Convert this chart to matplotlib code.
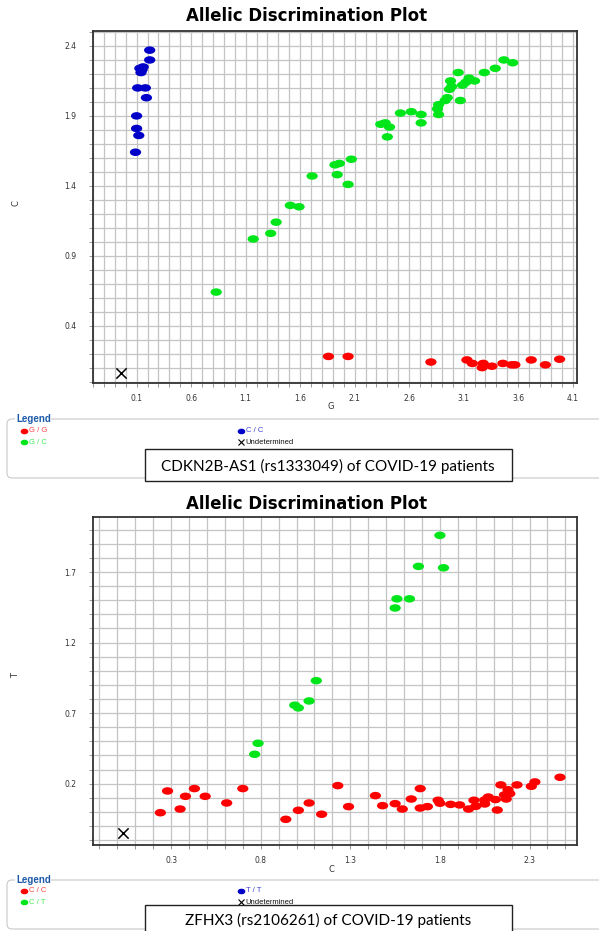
import matplotlib
matplotlib.use("Agg")
import matplotlib.pyplot as plt
from matplotlib.path import Path
from matplotlib.transforms import Affine2D
from matplotlib.lines import Line2D
from matplotlib.patches import FancyBboxPatch, Rectangle
from matplotlib.ticker import FixedLocator, MultipleLocator, FixedFormatter

# ---------------- data: panel 1 (CDKN2B-AS1 rs1333049) ----------------
p1_gg_x = [1.86, 2.04, 2.80, 3.13, 3.18, 3.28, 3.27, 3.36, 3.46, 3.54, 3.57, 3.72, 3.85, 3.98]
p1_gg_y = [0.18, 0.18, 0.14, 0.155, 0.13, 0.13, 0.10, 0.11, 0.13, 0.12, 0.12, 0.155, 0.12, 0.16]

p1_gc_x = [3.47, 3.55, 3.39, 3.29, 3.05, 2.98, 2.99, 2.97, 3.09, 3.15, 3.20, 3.12,
           2.95, 2.93, 3.07, 2.87, 2.86, 2.87, 2.52, 2.62, 2.71, 2.71,
           2.34, 2.38, 2.42, 2.40, 2.07, 1.96, 1.92, 1.71, 1.94, 2.04,
           1.51, 1.59, 1.38, 1.33, 1.17, 0.83]
p1_gc_y = [2.30, 2.28, 2.24, 2.21, 2.21, 2.15, 2.11, 2.09, 2.12, 2.17, 2.15, 2.14,
           2.03, 2.01, 2.01, 1.98, 1.95, 1.91, 1.92, 1.93, 1.91, 1.85,
           1.84, 1.85, 1.82, 1.75, 1.59, 1.56, 1.55, 1.47, 1.48, 1.41,
           1.26, 1.25, 1.14, 1.06, 1.02, 0.64]

p1_cc_x = [0.22, 0.22, 0.16, 0.13, 0.14, 0.15, 0.11, 0.18, 0.19, 0.10, 0.10, 0.12, 0.09]
p1_cc_y = [2.37, 2.30, 2.25, 2.24, 2.21, 2.23, 2.10, 2.10, 2.03, 1.90, 1.81, 1.76, 1.64]

p1_und_x = [-0.04]
p1_und_y = [0.065]

p1_xticks = [0.1, 0.6, 1.1, 1.6, 2.1, 2.6, 3.1, 3.6, 4.1]
p1_yticks = [0.4, 0.9, 1.4, 1.9, 2.4]
p1_xlabel = "G"
p1_ylabel = "C"
p1_legend = [("G / G", "#ff0000"), ("G / C", "#00e61a"), ("C / C", "#0000c8")]
p1_caption = "CDKN2B-AS1 (rs1333049) of COVID-19 patients"

# ---------------- data: panel 2 (ZFHX3 rs2106261) ----------------
p2_cc_x = [0.24, 0.28, 0.35, 0.38, 0.43, 0.49, 0.61, 0.70, 0.94, 1.01, 1.07, 1.14,
           1.23, 1.29, 1.44, 1.48, 1.55, 1.59, 1.64, 1.69, 1.69, 1.73, 1.79, 1.80,
           1.86, 1.91, 1.96, 1.99, 2.00, 2.05, 2.05, 2.07, 2.12, 2.14, 2.11, 2.16,
           2.17, 2.18, 2.19, 2.23, 2.31, 2.33, 2.47]
p2_cc_y = [-0.006, 0.148, 0.020, 0.110, 0.165, 0.110, 0.063, 0.165, -0.053, 0.011, 0.063, -0.017,
           0.186, 0.037, 0.115, 0.044, 0.058, 0.020, 0.091, 0.165, 0.027, 0.037, 0.082, 0.061,
           0.053, 0.049, 0.020, 0.082, 0.039, 0.056, 0.084, 0.105, 0.013, 0.191, 0.087, 0.120,
           0.091, 0.157, 0.129, 0.191, 0.181, 0.212, 0.245]

p2_ct_x = [1.80, 1.68, 1.82, 1.56, 1.63, 1.55, 1.11, 1.07, 0.99, 1.01, 0.785, 0.766]
p2_ct_y = [1.96, 1.74, 1.73, 1.51, 1.51, 1.445, 0.93, 0.786, 0.756, 0.737, 0.486, 0.408]

p2_tt_x = []
p2_tt_y = []

p2_und_x = [0.03]
p2_und_y = [-0.15]

p2_xticks = [0.3, 0.8, 1.3, 1.8, 2.3]
p2_yticks = [0.2, 0.7, 1.2, 1.7]
p2_xlabel = "C"
p2_ylabel = "T"
p2_legend = [("C / C", "#ff0000"), ("C / T", "#00e61a"), ("T / T", "#0000c8")]
p2_caption = "ZFHX3 (rs2106261) of COVID-19 patients"

TITLE = "Allelic Discrimination Plot"

# ---------------- figure ----------------
W, H = 599, 931
fig = plt.figure(figsize=(W / 100, H / 100), dpi=100)
fig.patch.set_facecolor("white")

ell = Path.unit_circle().transformed(Affine2D().scale(1.5, 1.0))

RED, GREEN, BLUE = "#ff0000", "#00e61a", "#0000c8"


def fx(px):
    return px / W


def fy(py):
    return 1 - py / H


def make_axes(top, bottom, xlim, ylim, xticks, yticks):
    ax = fig.add_axes([fx(93), fy(bottom), (577 - 93) / W, (bottom - top) / H])
    ax.set_xlim(*xlim)
    ax.set_ylim(*ylim)
    ax.xaxis.set_major_locator(FixedLocator(xticks))
    ax.yaxis.set_major_locator(FixedLocator(yticks))
    ax.xaxis.set_major_formatter(FixedFormatter([f"{v:.1f}" for v in xticks]))
    ax.yaxis.set_major_formatter(FixedFormatter([f"{v:.1f}" for v in yticks]))
    ax.xaxis.set_minor_locator(MultipleLocator(0.1))
    ax.yaxis.set_minor_locator(MultipleLocator(0.1))
    ax.grid(True, which="both", color="#c4c4c4", linewidth=0.9)
    ax.set_axisbelow(True)
    ax.tick_params(which="both", direction="out", length=3, width=0.7,
                   color="#999999", labelsize=5.5, labelcolor="#333333")
    ax.tick_params(axis="y", which="both", pad=9)
    ax.tick_params(axis="x", which="both", pad=5)
    for s in ax.spines.values():
        s.set_color("#333333")
        s.set_linewidth(1.3)
    return ax


def draw_panel(top, bottom, xlim, ylim, xticks, yticks, series, und, title_y,
               xlabel, ylabel, ylabel_y, legend, caption, leg_top, leg_bot,
               ent1, ent2, cap_top, cap_bot, cap_y):
    ax = make_axes(top, bottom, xlim, ylim, xticks, yticks)
    for xs, ys, c in series:
        if xs:
            ax.scatter(xs, ys, s=66, marker=ell, color=c, edgecolors="none", zorder=3)
    ax.scatter(und[0], und[1], s=55, marker="x", color="black", linewidths=1.1, zorder=3)
    fig.text(fx(307), fy(title_y), TITLE, ha="center", va="center",
             fontsize=12, fontweight="bold", family="DejaVu Sans")
    fig.text(fx(331), fy(bottom + 24), xlabel, ha="center", va="center",
             fontsize=6, color="#333333")
    fig.text(fx(16), fy(ylabel_y), ylabel, ha="center", va="center",
             fontsize=6, color="#333333", rotation=90)

    # legend box
    box = FancyBboxPatch((7 / 100, (H - leg_bot) / 100), 6.3, (leg_bot - leg_top) / 100,
                         boxstyle="round,pad=0,rounding_size=0.05",
                         transform=fig.dpi_scale_trans, facecolor="white",
                         edgecolor="#c8c8c8", linewidth=0.8, zorder=1)
    fig.add_artist(box)
    fig.text(fx(16), fy(leg_top), "Legend", ha="left", va="center", fontsize=7,
             fontweight="bold", color="#1c5aa8", family="Liberation Sans",
             bbox=dict(facecolor="white", edgecolor="none", pad=0.5), zorder=2)
    entries = [(24, ent1, legend[0]), (24, ent2, legend[1]), (241, ent1, legend[2])]
    for px, py, (lab, col) in entries:
        fig.add_artist(Line2D([fx(px)], [fy(py)], transform=fig.transFigure,
                              marker=ell, markersize=4.5, color=col, linestyle="none"))
        fig.text(fx(px + 5), fy(py), lab, ha="left", va="center", fontsize=5.5,
                 color=col, family="Liberation Sans", alpha=0.75)
    fig.add_artist(Line2D([fx(241)], [fy(ent2)], transform=fig.transFigure,
                          marker="x", markersize=4.5, color="black",
                          markeredgewidth=0.8, linestyle="none"))
    fig.text(fx(245), fy(ent2), "Undetermined", ha="left", va="center",
             fontsize=5.5, color="#111111", family="Liberation Sans")

    # caption box
    rect = Rectangle((fx(145), fy(cap_bot)), (512 - 145) / W, (cap_bot - cap_top) / H,
                     transform=fig.transFigure, facecolor="white",
                     edgecolor="#222222", linewidth=1.0, zorder=3)
    fig.add_artist(rect)
    fig.text(fx(328), fy(cap_y), caption, ha="center", va="center",
             fontsize=11, family="Lato", color="black", zorder=4)
    return ax


draw_panel(31, 383, (-0.30, 4.14), (-0.01, 2.507), p1_xticks, p1_yticks,
           [(p1_gg_x, p1_gg_y, RED), (p1_gc_x, p1_gc_y, GREEN), (p1_cc_x, p1_cc_y, BLUE)],
           (p1_und_x, p1_und_y), 16, p1_xlabel, p1_ylabel, 203,
           p1_legend, p1_caption, 419, 478, 431, 442, 449, 481, 466)

draw_panel(517, 845, (-0.136, 2.565), (-0.235, 2.09), p2_xticks, p2_yticks,
           [(p2_cc_x, p2_cc_y, RED), (p2_ct_x, p2_ct_y, GREEN), (p2_tt_x, p2_tt_y, BLUE)],
           (p2_und_x, p2_und_y), 504, p2_xlabel, p2_ylabel, 675,
           p2_legend, p2_caption, 880, 929, 891, 902, 905, 940, 920)

fig.savefig("out.png", dpi=100, facecolor="white")
